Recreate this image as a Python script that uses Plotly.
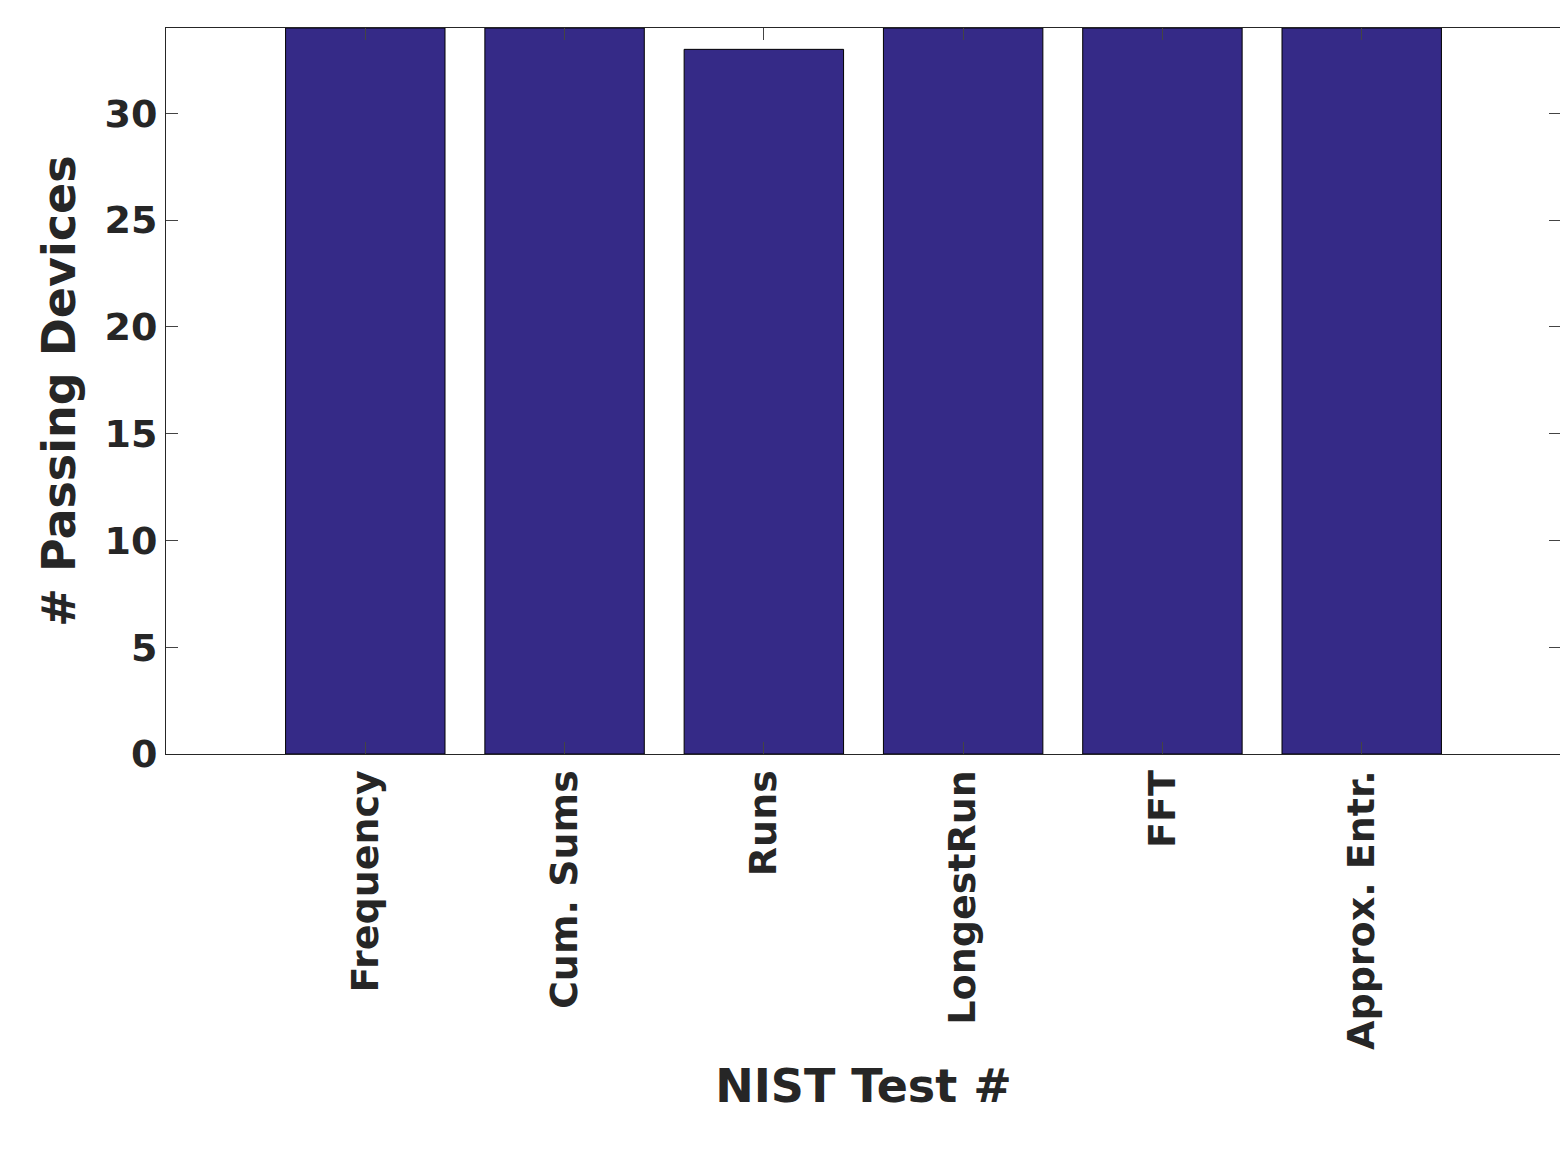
"""Bar chart of NIST tests passed per device"""
import plotly.graph_objects as go

tests = ["Frequency", "Cum. Sums", "Runs", "LongestRun", "FFT", "Approx. Entr."]
passing = [34, 34, 33, 34, 34, 34]
positions = [1, 2, 3, 4, 5, 6]

fig = go.Figure()
fig.add_trace(go.Bar(x=positions, y=passing, width=0.8,
                     marker=dict(color="#352a87", line=dict(color="black", width=1))))

font = dict(family="DejaVu Sans", color="#262626")
fig.update_layout(
    width=1568, height=1174,
    margin=dict(l=158, r=15, t=20, b=428),
    plot_bgcolor="white", paper_bgcolor="white",
    showlegend=False,
    font=font,
    xaxis=dict(range=[0, 7], tickvals=positions, ticktext=["<b>%s</b>" % t for t in tests],
               tickangle=-90, tickfont=dict(size=38), ticks="inside", ticklen=12,
               mirror="ticks", showline=True, linecolor="#262626", linewidth=1,
               showgrid=False, zeroline=False,
               title=dict(text="<b>NIST Test #</b>", font=dict(size=46), standoff=20)),
    yaxis=dict(range=[0, 34], tickvals=[0, 5, 10, 15, 20, 25, 30],
               ticktext=["<b>%d</b>" % v for v in [0, 5, 10, 15, 20, 25, 30]],
               tickfont=dict(size=38), ticks="inside", ticklen=12,
               mirror="ticks", showline=True, linecolor="#262626", linewidth=1,
               showgrid=False, zeroline=False,
               title=dict(text="<b># Passing Devices</b>", font=dict(size=46), standoff=14)),
)

fig.write_html("out.html")
